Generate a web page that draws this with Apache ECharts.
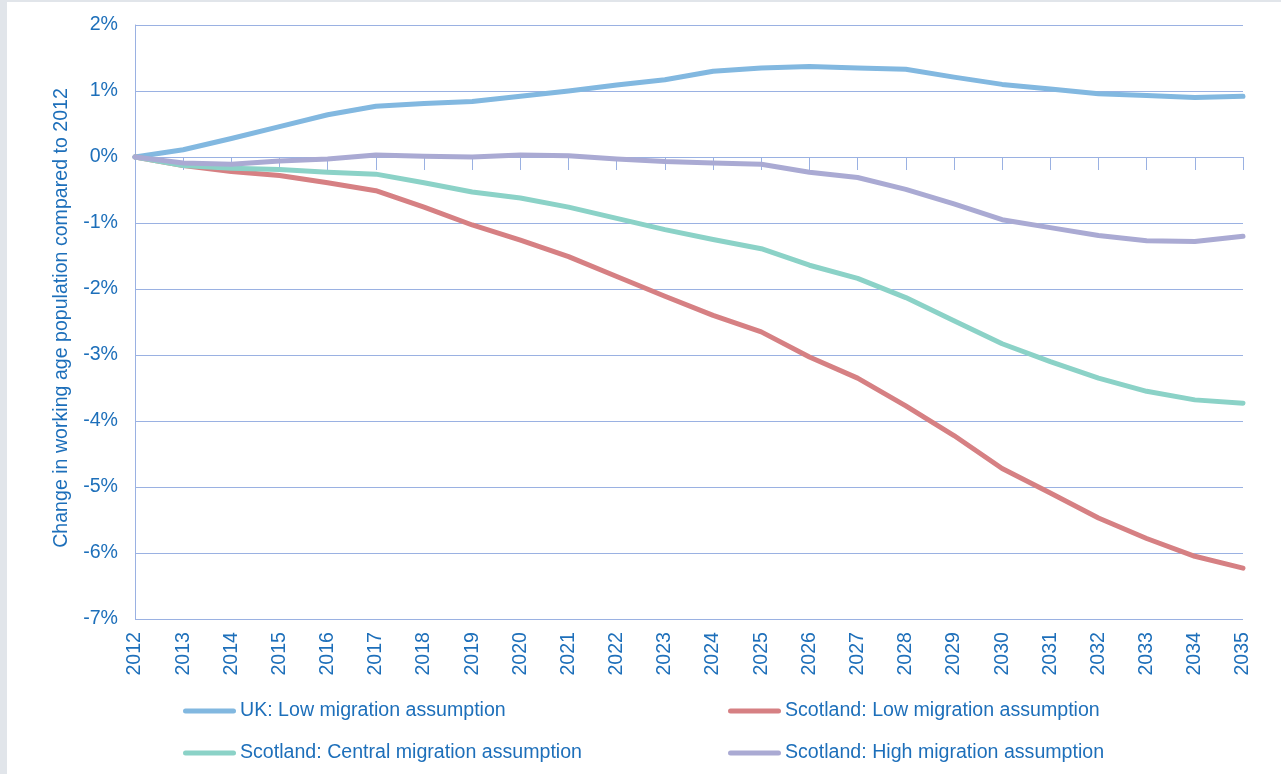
<!DOCTYPE html>
<html>
<head>
<meta charset="utf-8">
<title>Change in working age population compared to 2012</title>
<script src="https://cdn.jsdelivr.net/npm/echarts@6/dist/echarts.min.js"></script>
<style>
  html, body { margin: 0; padding: 0; background: #ffffff; }
  #chart { width: 1281px; height: 774px; }
</style>
</head>
<body>
<div id="chart"></div>
<script>
// Years on the horizontal axis
const years = ['2012','2013','2014','2015','2016','2017','2018','2019','2020','2021','2022','2023',
               '2024','2025','2026','2027','2028','2029','2030','2031','2032','2033','2034','2035'];

// Percentage change in working age population relative to 2012
const ukLow = [0, 0.11, 0.28, 0.46, 0.64, 0.77, 0.81, 0.84, 0.92, 1.00, 1.09, 1.17,
               1.30, 1.35, 1.37, 1.35, 1.33, 1.21, 1.10, 1.03, 0.96, 0.93, 0.90, 0.92];
const scotLow = [0, -0.13, -0.22, -0.28, -0.39, -0.51, -0.76, -1.03, -1.26, -1.51, -1.81, -2.11,
                 -2.40, -2.65, -3.03, -3.35, -3.77, -4.22, -4.72, -5.09, -5.47, -5.78, -6.05, -6.23];
const scotCentral = [0, -0.13, -0.17, -0.19, -0.23, -0.26, -0.39, -0.53, -0.62, -0.76, -0.93, -1.10,
                     -1.25, -1.39, -1.64, -1.84, -2.13, -2.48, -2.83, -3.10, -3.35, -3.55, -3.68, -3.73];
const scotHigh = [0, -0.09, -0.11, -0.06, -0.03, 0.03, 0.01, 0.00, 0.03, 0.02, -0.03, -0.07,
                  -0.09, -0.11, -0.23, -0.31, -0.49, -0.71, -0.95, -1.07, -1.19, -1.27, -1.28, -1.20];

// Series names (legend text)
const seriesNames = [
  'UK: Low migration assumption',
  'Scotland: Low migration assumption',
  'Scotland: Central migration assumption',
  'Scotland: High migration assumption'
];

// Y axis range and step (percent)
const yMin = -7, yMax = 2, yStep = 1;
const yAxisTitle = 'Change in working age population compared to 2012';

const textColor = '#1d6fba';
const gridColor = '#9ab1e2';
const fontFamily = '"Liberation Sans", Arial, Helvetica, sans-serif';
const fontSize = 19.6;
const colors = ['#82b8e0', '#d68083', '#8bd2c7', '#aaaad3'];

// Rounded-end bar used as the legend marker
const capsule = 'path://M2.5,0 L50.5,0 A2.5,2.5 0 0 1 50.5,5 L2.5,5 A2.5,2.5 0 0 1 2.5,0 Z';

function legendFor(name, left, top) {
  return {
    data: [name],
    left: left,
    top: top,
    padding: 0,
    icon: capsule,
    itemWidth: 53,
    itemHeight: 5,
    selectedMode: false,
    textStyle: { color: textColor, fontSize: fontSize, fontFamily: fontFamily, lineHeight: 20, padding: [0, 0, 0, -1] }
  };
}

const chart = echarts.init(document.getElementById('chart'), null, { renderer: 'canvas' });

const seriesData = [ukLow, scotLow, scotCentral, scotHigh];

chart.setOption({
  backgroundColor: '#ffffff',
  animation: false,
  textStyle: { fontFamily: fontFamily },
  graphic: [
    { type: 'rect', left: 0, top: 0, shape: { width: 7, height: 774 }, style: { fill: '#e1e5ea' }, silent: true },
    { type: 'rect', left: 0, top: 0, shape: { width: 1281, height: 2 }, style: { fill: '#e1e5ea' }, silent: true }
  ],
  legend: [
    legendFor(seriesNames[0], 183, 701),
    legendFor(seriesNames[1], 728, 701),
    legendFor(seriesNames[2], 183, 743),
    legendFor(seriesNames[3], 728, 743)
  ],
  grid: { left: 135, right: 38, top: 25, bottom: 155, containLabel: false },
  xAxis: [
    {
      type: 'category',
      data: years,
      boundaryGap: false,
      position: 'bottom',
      axisLine: { show: false, onZero: false },
      axisTick: { show: false },
      splitLine: { show: false },
      axisLabel: {
        rotate: 90,
        margin: 13,
        color: textColor,
        fontSize: fontSize,
        fontFamily: fontFamily,
        interval: 0
      }
    },
    {
      // Zero baseline carrying the year ticks
      type: 'category',
      data: years,
      boundaryGap: false,
      position: 'top',
      axisLine: { show: true, onZero: true, lineStyle: { color: gridColor, width: 1 } },
      axisTick: { show: true, inside: true, length: 13, interval: 0, lineStyle: { color: gridColor, width: 1 } },
      axisLabel: { show: false },
      splitLine: { show: false }
    }
  ],
  yAxis: {
    type: 'value',
    min: yMin,
    max: yMax,
    interval: yStep,
    name: yAxisTitle,
    nameLocation: 'middle',
    nameRotate: 90,
    nameGap: 63,
    nameTextStyle: { color: textColor, fontSize: fontSize, fontFamily: fontFamily, padding: [0, 0, 0, 8] },
    axisLine: { show: true, lineStyle: { color: gridColor, width: 1 } },
    axisTick: { show: false },
    splitLine: { show: true, lineStyle: { color: gridColor, width: 1 } },
    axisLabel: {
      margin: 17,
      color: textColor,
      fontSize: fontSize,
      fontFamily: fontFamily,
      formatter: '{value}%'
    }
  },
  series: seriesNames.map((name, i) => ({
    name: name,
    type: 'line',
    xAxisIndex: 0,
    data: seriesData[i],
    symbol: 'none',
    smooth: false,
    color: colors[i],
    lineStyle: { width: 5, color: colors[i], cap: 'round', join: 'round' },
    z: 3 + i
  }))
});
</script>
</body>
</html>
